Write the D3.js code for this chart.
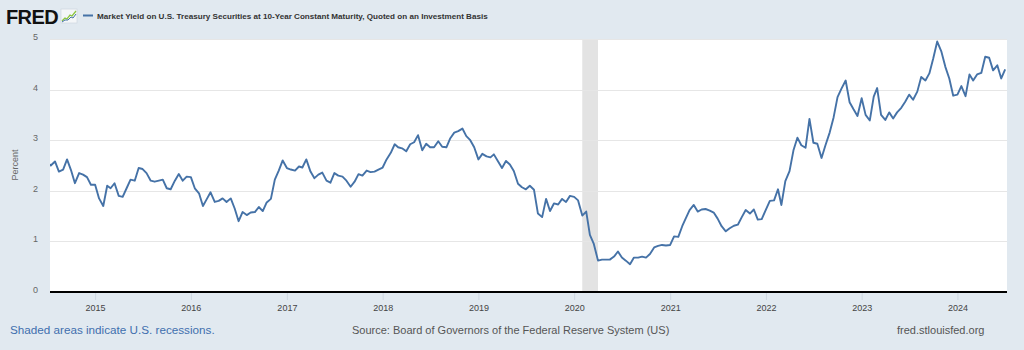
<!DOCTYPE html>
<html>
<head>
<meta charset="utf-8">
<script src="https://cdn.jsdelivr.net/npm/d3@7"></script>
<style>
  body { margin: 0; background: #e1e9f0; }
  svg { display: block; font-family: "Liberation Sans", Arial, sans-serif; }
</style>
</head>
<body>
<svg id="chart" width="1024" height="350"></svg>
<script>
// 10-year yield at the 1st and 16th of each month
// (2014 starts in July, 2024 ends in July)
const y2014 = [2.57, 2.50, 2.58, 2.38, 2.42, 2.62, 2.41, 2.15, 2.35, 2.32, 2.27, 2.12];
const y2015 = [2.12, 1.85, 1.70, 2.10, 2.05, 2.15, 1.90, 1.88, 2.05, 2.22, 2.20, 2.45,
               2.43, 2.35, 2.20, 2.18, 2.20, 2.22, 2.05, 2.03, 2.20, 2.33, 2.20, 2.28];
const y2016 = [2.27, 2.05, 1.95, 1.70, 1.83, 1.97, 1.78, 1.80, 1.85, 1.78, 1.85, 1.65,
               1.40, 1.58, 1.52, 1.57, 1.58, 1.68, 1.60, 1.77, 1.84, 2.22, 2.40, 2.60];
const y2017 = [2.45, 2.42, 2.40, 2.48, 2.46, 2.62, 2.38, 2.25, 2.32, 2.36, 2.20, 2.16,
               2.35, 2.30, 2.28, 2.20, 2.08, 2.18, 2.33, 2.30, 2.40, 2.37, 2.38, 2.42];
const y2018 = [2.46, 2.62, 2.75, 2.92, 2.86, 2.84, 2.78, 2.92, 2.96, 3.10, 2.80, 2.93,
               2.86, 2.86, 2.98, 2.87, 2.86, 3.04, 3.15, 3.18, 3.23, 3.08, 3.00, 2.86];
const y2019 = [2.62, 2.73, 2.68, 2.66, 2.72, 2.59, 2.45, 2.59, 2.52, 2.39, 2.14, 2.07,
               2.03, 2.10, 2.02, 1.55, 1.48, 1.84, 1.60, 1.75, 1.73, 1.84, 1.78, 1.90];
const y2020 = [1.88, 1.81, 1.51, 1.59, 1.13, 0.95, 0.62, 0.64, 0.64, 0.64, 0.70, 0.80,
               0.68, 0.62, 0.55, 0.68, 0.68, 0.70, 0.68, 0.75, 0.88, 0.91, 0.93, 0.92];
const y2021 = [0.93, 1.10, 1.09, 1.30, 1.45, 1.62, 1.72, 1.59, 1.63, 1.64, 1.61, 1.57,
               1.45, 1.30, 1.20, 1.26, 1.31, 1.33, 1.48, 1.62, 1.55, 1.63, 1.43, 1.44];
const y2022 = [1.63, 1.80, 1.81, 2.03, 1.72, 2.19, 2.39, 2.80, 3.05, 2.90, 2.85, 3.42,
               2.95, 2.93, 2.65, 2.90, 3.15, 3.45, 3.85, 4.02, 4.18, 3.75, 3.61, 3.48];
const y2023 = [3.83, 3.50, 3.39, 3.86, 4.03, 3.50, 3.40, 3.55, 3.43, 3.55, 3.64, 3.76,
               3.90, 3.80, 3.96, 4.25, 4.18, 4.32, 4.62, 4.95, 4.75, 4.45, 4.22, 3.88];
const y2024 = [3.90, 4.07, 3.87, 4.30, 4.18, 4.30, 4.33, 4.65, 4.63, 4.38, 4.48, 4.22, 4.40];

const years = [2014, 2015, 2016, 2017, 2018, 2019, 2020, 2021, 2022, 2023, 2024];
const yearValues = [y2014, y2015, y2016, y2017, y2018, y2019, y2020, y2021, y2022, y2023, y2024];

const recessions = [["2020-02-01", "2020-04-01"]];
const yTicks = [0, 1, 2, 3, 4, 5];
const xTickYears = [2015, 2016, 2017, 2018, 2019, 2020, 2021, 2022, 2023, 2024];
const dateRange = ["2014-07-13", "2024-07-08"];

const title = "Market Yield on U.S. Treasury Securities at 10-Year Constant Maturity, Quoted on an Investment Basis";
const yTitle = "Percent";
const note = "Shaded areas indicate U.S. recessions.";
const source = "Source: Board of Governors of the Federal Reserve System (US)";
const site = "fred.stlouisfed.org";

let data = [];
yearValues.forEach(function(vals, i) {
    let first = years[i] === 2014 ? 12 : 0;
    vals.forEach(function(v, j) {
        let h = first + j;
        data.push({date: new Date(years[i], Math.floor(h / 2), h % 2 ? 16 : 1), value: v});
    });
});

let plotLeft = 50, plotRight = 1007, plotTop = 39, plotBottom = 292;
let svg = d3.select("#chart");
let parse = d3.timeParse("%Y-%m-%d");

let x = d3.scaleTime()
    .domain(dateRange.map(parse))
    .range([plotLeft, plotRight]);
let y = d3.scaleLinear()
    .domain([0, 5])
    .range([plotBottom, plotTop]);

// plot background
svg.append("rect").attr("x", plotLeft).attr("y", plotTop)
    .attr("width", plotRight - plotLeft).attr("height", plotBottom - plotTop).attr("fill", "#fff");

svg.append("defs").append("clipPath").attr("id", "plot")
    .append("rect").attr("x", plotLeft).attr("y", plotTop - 2)
    .attr("width", plotRight - plotLeft).attr("height", plotBottom - plotTop + 2);

// recession bars
svg.selectAll(".rec").data(recessions).enter().append("rect")
    .attr("x", d => x(parse(d[0])))
    .attr("width", d => x(parse(d[1])) - x(parse(d[0])))
    .attr("y", plotTop).attr("height", plotBottom - plotTop)
    .attr("fill", "#e3e3e3");

// gridlines
svg.selectAll(".grid").data(yTicks.slice(1)).enter().append("line")
    .attr("x1", plotLeft).attr("x2", plotRight)
    .attr("y1", d => Math.round(y(d)) + 0.5).attr("y2", d => Math.round(y(d)) + 0.5)
    .attr("stroke", "#e6e6e6");

// y labels
svg.selectAll(".ylab").data(yTicks).enter().append("text")
    .attr("x", 38).attr("y", d => y(d) + 1)
    .attr("text-anchor", "end")
    .attr("font-size", 9).attr("fill", "#666")
    .text(d => d);

svg.append("text")
    .attr("transform", "translate(18,165)rotate(-90)")
    .attr("text-anchor", "middle")
    .attr("font-size", 9).attr("fill", "#666")
    .text(yTitle);

// x axis
let xAxis = d3.axisBottom(x)
    .tickValues(xTickYears.map(yr => new Date(yr, 0, 1)))
    .tickFormat(d3.timeFormat("%Y"))
    .tickSize(8).tickPadding(5);
let gx = svg.append("g").attr("transform", "translate(0," + plotBottom + ")").call(xAxis);
gx.select(".domain").remove();
gx.selectAll("line").attr("stroke", "#ccd6e0");
gx.selectAll("text").attr("font-size", 9).attr("fill", "#444")
    .attr("font-family", "Liberation Sans, Arial, sans-serif");
svg.append("line").attr("x1", plotLeft).attr("x2", plotRight)
    .attr("y1", plotBottom).attr("y2", plotBottom)
    .attr("stroke", "#000").attr("stroke-width", 2);

// the line
let line = d3.line().x(d => x(d.date)).y(d => y(d.value));
svg.append("path").datum(data)
    .attr("clip-path", "url(#plot)")
    .attr("d", line)
    .attr("fill", "none")
    .attr("stroke", "#4572a7")
    .attr("stroke-width", 1.9)
    .attr("stroke-linejoin", "round");

// FRED logo
svg.append("text").attr("x", 6).attr("y", 23.5)
    .attr("font-size", 20).attr("font-weight", "bold")
    .attr("letter-spacing", -0.6).attr("fill", "#111")
    .text("FRED");
let icon = svg.append("g").attr("transform", "translate(61,9)");
icon.append("rect").attr("width", 16).attr("height", 14).attr("fill", "#f4f6f8").attr("stroke", "#c9d3dc").attr("stroke-width", 0.6);
icon.append("polyline").attr("points", "1,12 4,9 6,10 9,6 11,7 15,2")
    .attr("fill", "none").attr("stroke", "#8cc63f").attr("stroke-width", 1.3);
icon.append("polyline").attr("points", "1,13 4,11 7,11 10,8 12,9 15,5")
    .attr("fill", "none").attr("stroke", "#4572a7").attr("stroke-width", 1);

// legend
svg.append("line").attr("x1", 83).attr("x2", 93).attr("y1", 15.5).attr("y2", 15.5)
    .attr("stroke", "#4572a7").attr("stroke-width", 2);
svg.append("text").attr("x", 97).attr("y", 18.5)
    .attr("font-size", 8.1).attr("font-weight", "bold").attr("fill", "#333")
    .text(title);

// footer
svg.append("text").attr("x", 10).attr("y", 334)
    .attr("font-size", 11.7).attr("fill", "#3f6fae").text(note);
svg.append("text").attr("x", 352).attr("y", 334)
    .attr("font-size", 11).attr("fill", "#555").text(source);
svg.append("text").attr("x", 897).attr("y", 334)
    .attr("font-size", 11).attr("fill", "#555").text(site);
</script>
</body>
</html>
